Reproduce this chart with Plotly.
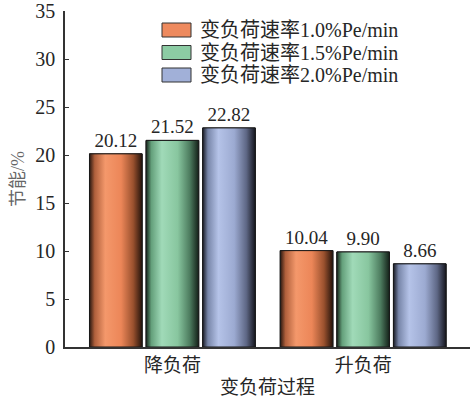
import plotly.graph_objects as go

# Energy saving (%) for each load-change process at three load-change rates
processes = ["降负荷", "升负荷"]
series_names = ["变负荷速率1.0%Pe/min", "变负荷速率1.5%Pe/min", "变负荷速率2.0%Pe/min"]
savings_10 = [20.12, 10.04]
savings_15 = [21.52, 9.90]
savings_20 = [22.82, 8.66]
y_ticks = [0, 5, 10, 15, 20, 25, 30, 35]

series_values = [savings_10, savings_15, savings_20]
base_colors = ["#ee8a5e", "#8ccca4", "#a1b0d8"]
# cylinder-like shading across each bar (dark edge -> highlight -> dark edge)
shades = [
    [[0, "#2a1810"], [0.1, "#b0603c"], [0.3, "#f4986b"], [0.6, "#ec8658"], [0.83, "#9a512e"], [1, "#24130b"]],
    [[0, "#17261c"], [0.1, "#64a07b"], [0.3, "#a0dab8"], [0.6, "#88c69f"], [0.83, "#4d7c5f"], [1, "#142018"]],
    [[0, "#181a24"], [0.1, "#7886a9"], [0.3, "#b5c3e8"], [0.6, "#9caad1"], [0.83, "#5e6785"], [1, "#15161e"]],
]

FONT = "Liberation Serif, Noto Sans CJK SC, serif"
TXT = "#262626"
BARGAP = 0.11
GROUPGAP = 0.07

# plot-area geometry in pixels (used for the hand-placed legend)
W, H = 470, 403
ML, MR, MT, MB = 65, 0, 11, 56
PW, PH = W - ML - MR, H - MT - MB

x_pos = list(range(len(processes)))
n = len(series_values)
slot = (1 - BARGAP) / n
half_w = slot * (1 - GROUPGAP) / 2

fig = go.Figure()
for k, (name, vals, col) in enumerate(zip(series_names, series_values, base_colors)):
    fig.add_trace(go.Bar(
        x=x_pos, y=vals, name=name,
        marker=dict(color=col, line=dict(color="#1a1a1a", width=1)),
        text=[f"{v:.2f}" for v in vals], textposition="outside",
        textfont=dict(family=FONT, size=19, color=TXT),
        cliponaxis=False, hoverinfo="skip", showlegend=False,
    ))

# shaded overlay on every bar, placed at the grouped-bar positions
for k, vals in enumerate(series_values):
    for g, v in zip(x_pos, vals):
        c = g + (k - (n - 1) / 2) * slot
        fig.add_trace(go.Scatter(
            x=[c - half_w, c + half_w, c + half_w, c - half_w, c - half_w],
            y=[0, 0, v, v, 0],
            mode="lines", fill="toself",
            fillgradient=dict(type="horizontal", colorscale=shades[k]),
            line=dict(color="#1a1a1a", width=1),
            showlegend=False, hoverinfo="skip",
        ))

# legend: swatch + label per series
def px_x(px):
    return (px - ML) / PW

def px_y(py):
    return (H - MB - py) / PH

row_centers = [30, 52.5, 75]
for name, col, yc in zip(series_names, base_colors, row_centers):
    fig.add_shape(
        type="rect", xref="paper", yref="paper",
        x0=px_x(162), x1=px_x(191), y0=px_y(yc + 7), y1=px_y(yc - 7),
        fillcolor=col, line=dict(color="#333", width=1),
    )
    fig.add_annotation(
        xref="paper", yref="paper", x=px_x(198), y=px_y(yc),
        xanchor="left", yanchor="middle", showarrow=False,
        text=name, font=dict(family=FONT, size=20, color=TXT),
    )

fig.update_layout(
    width=W, height=H,
    margin=dict(l=ML, r=MR, t=MT, b=MB),
    paper_bgcolor="white", plot_bgcolor="white",
    barmode="group", bargap=BARGAP, bargroupgap=GROUPGAP,
    font=dict(family=FONT, size=19, color=TXT),
    showlegend=False,
    xaxis=dict(
        range=[-0.563, 1.56], tickvals=x_pos, ticktext=processes,
        showline=True, linecolor="#333", linewidth=1.5, ticks="",
        showgrid=False, zeroline=False,
        title=dict(text="变负荷过程", font=dict(family=FONT, size=19, color=TXT), standoff=6),
        tickfont=dict(family=FONT, size=19, color=TXT),
    ),
    yaxis=dict(
        range=[0, 35], tickvals=y_ticks,
        showline=True, linecolor="#333", linewidth=1.5,
        ticks="inside", ticklen=4, tickcolor="#333", tickwidth=1.2,
        ticklabeloverflow="allow", ticklabelstandoff=4,
        showgrid=False, zeroline=False,
        title=dict(text="节能/%", font=dict(family=FONT, size=18, color="#666"), standoff=6),
        tickfont=dict(family=FONT, size=20, color=TXT),
    ),
)

fig.write_html("out.html")
